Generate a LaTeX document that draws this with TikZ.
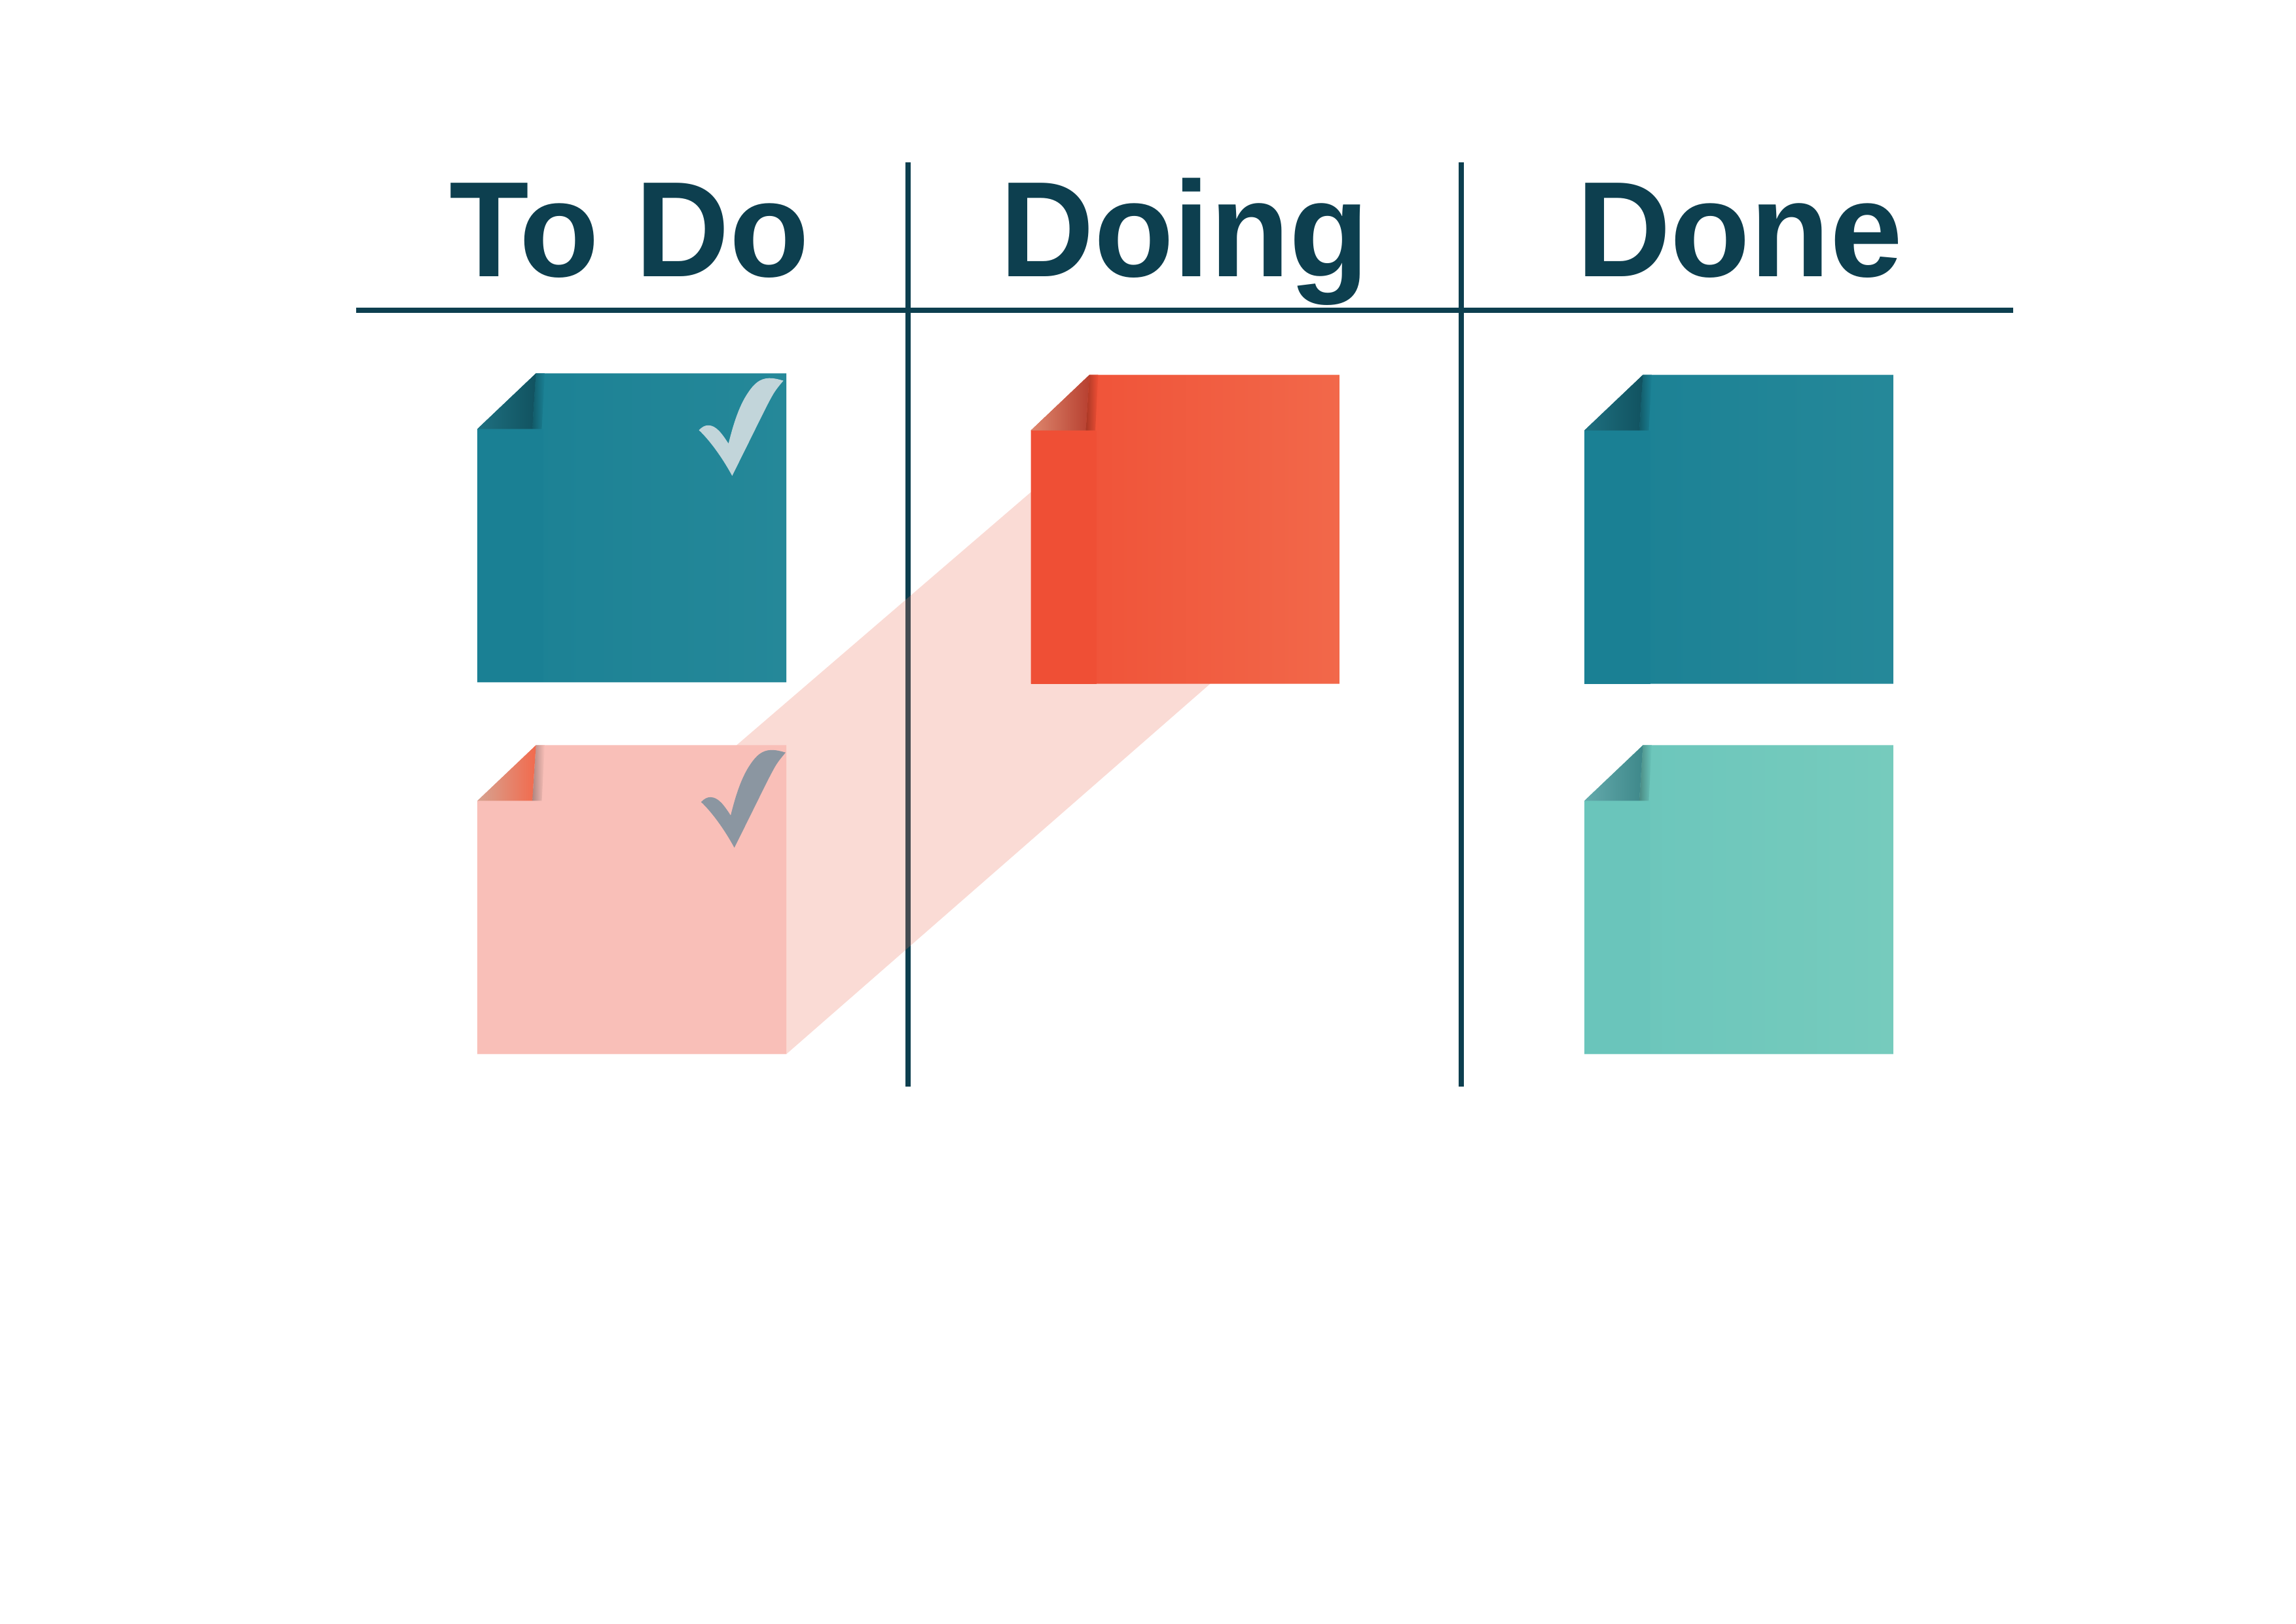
\documentclass[tikz,border=0pt]{standalone}
\usepackage{fontspec}
\setmainfont{Liberation Sans}
\newfontfamily\headfont[FakeStretch=0.96]{Liberation Sans}
\usepackage{xcolor}
\definecolor{boardline}{RGB}{13,63,79}
\definecolor{tealA}{RGB}{26,128,148}
\definecolor{tealB}{RGB}{37,136,153}
\definecolor{tealfold}{RGB}{17,82,96}
\definecolor{tealfoldlt}{RGB}{30,112,128}
\definecolor{redA}{RGB}{239,79,53}
\definecolor{redB}{RGB}{242,104,74}
\definecolor{redfold}{RGB}{183,64,48}
\definecolor{redfoldlt}{RGB}{222,135,110}
\definecolor{pinknote}{RGB}{249,191,184}
\definecolor{pinkfold}{RGB}{242,106,77}
\definecolor{pinkfoldlt}{RGB}{214,163,145}
\definecolor{mintA}{RGB}{106,197,187}
\definecolor{mintB}{RGB}{118,203,189}
\definecolor{mintfold}{RGB}{62,136,138}
\definecolor{mintfoldlt}{RGB}{100,170,172}
\definecolor{ticklight}{RGB}{194,213,218}
\definecolor{tickgrey}{RGB}{139,150,161}
\definecolor{trail}{RGB}{235,111,87}

% sticky note: left, top, colour left, colour right, fold dark, fold light
\newcommand{\stickynote}[6]{%
  \shade[left color=#3, right color=#4]
    (#1,#2+38) -- (#1+40,#2) -- (#1+211,#2) -- (#1+211,#2+211) -- (#1,#2+211) -- cycle;
  \fill[#3] (#1,#2+38) -- (#1+45,#2+38) -- (#1+45,#2+211) -- (#1,#2+211) -- cycle;
  % shadow of the curl
  \shade[left color=black!30!#3, right color=#3]
    (#1+37.5,#2+38) -- (#1+40,#2) -- (#1+46,#2) -- (#1+44,#2+38) -- cycle;
  % curled corner
  \shade[left color=#6, middle color=#5, right color=#5]
    (#1,#2+38) -- (#1+40,#2) -- (#1+37.5,#2+38) -- cycle;
}
% check mark: left, top of the note, colour
\newcommand{\tickmark}[3]{%
  \fill[#3] (#1+151.3,#2+38.8)
    .. controls (#1+153.5,#2+36.5) and (#1+155.5,#2+35.5) .. (#1+157.7,#2+35.5)
    .. controls (#1+163,#2+35.5) and (#1+167,#2+41) .. (#1+171.5,#2+48)
    .. controls (#1+174,#2+38) and (#1+178,#2+23) .. (#1+185,#2+13)
    .. controls (#1+189,#2+7) and (#1+193,#2+3.5) .. (#1+199,#2+3.3)
    .. controls (#1+203,#2+3.2) and (#1+206,#2+4.2) .. (#1+209,#2+5)
    .. controls (#1+206.5,#2+8) and (#1+204,#2+11) .. (#1+202.2,#2+14)
    .. controls (#1+197.5,#2+22) and (#1+192.5,#2+33) .. (#1+174,#2+70)
    .. controls (#1+167,#2+57) and (#1+158,#2+45) .. (#1+151.3,#2+38.8) -- cycle;
}

\begin{document}
\begin{tikzpicture}[x=0.018941cm, y=-0.018941cm,
    heading/.style={font=\headfont\fontsize{50}{54}\selectfont\bfseries, text=boardline,
      anchor=base, inner sep=0pt},
    board/.style={boardline, line width=1.9pt}]
  \useasboundingbox (0,0) rectangle (1568,1109);
  % Column headings
  \node[heading] (todo) at (430,189) {To Do};
  \node[heading] (doing) at (809,189) {Doing};
  \node[heading] (done) at (1188,189) {Done};
  % Board lines
  \draw[board] (243,212) -- (1375,212);
  \foreach \x in {620,998}
    \draw[board] (\x,111) -- (\x,742);
  % Trail from the moved note
  \fill[trail, fill opacity=0.25] (460,546) -- (760,288) -- (870,429) -- (537,720) -- cycle;
  % To Do
  \stickynote{326}{255}{tealA}{tealB}{tealfold}{tealfoldlt}
  \tickmark{326}{255}{ticklight}
  \stickynote{326}{509}{pinknote}{pinknote}{pinkfold}{pinkfoldlt}
  \tickmark{327.5}{509}{tickgrey}
  % Doing
  \stickynote{704}{256}{redA}{redB}{redfold}{redfoldlt}
  % Done
  \stickynote{1082}{256}{tealA}{tealB}{tealfold}{tealfoldlt}
  \stickynote{1082}{509}{mintA}{mintB}{mintfold}{mintfoldlt}
\end{tikzpicture}
\end{document}
